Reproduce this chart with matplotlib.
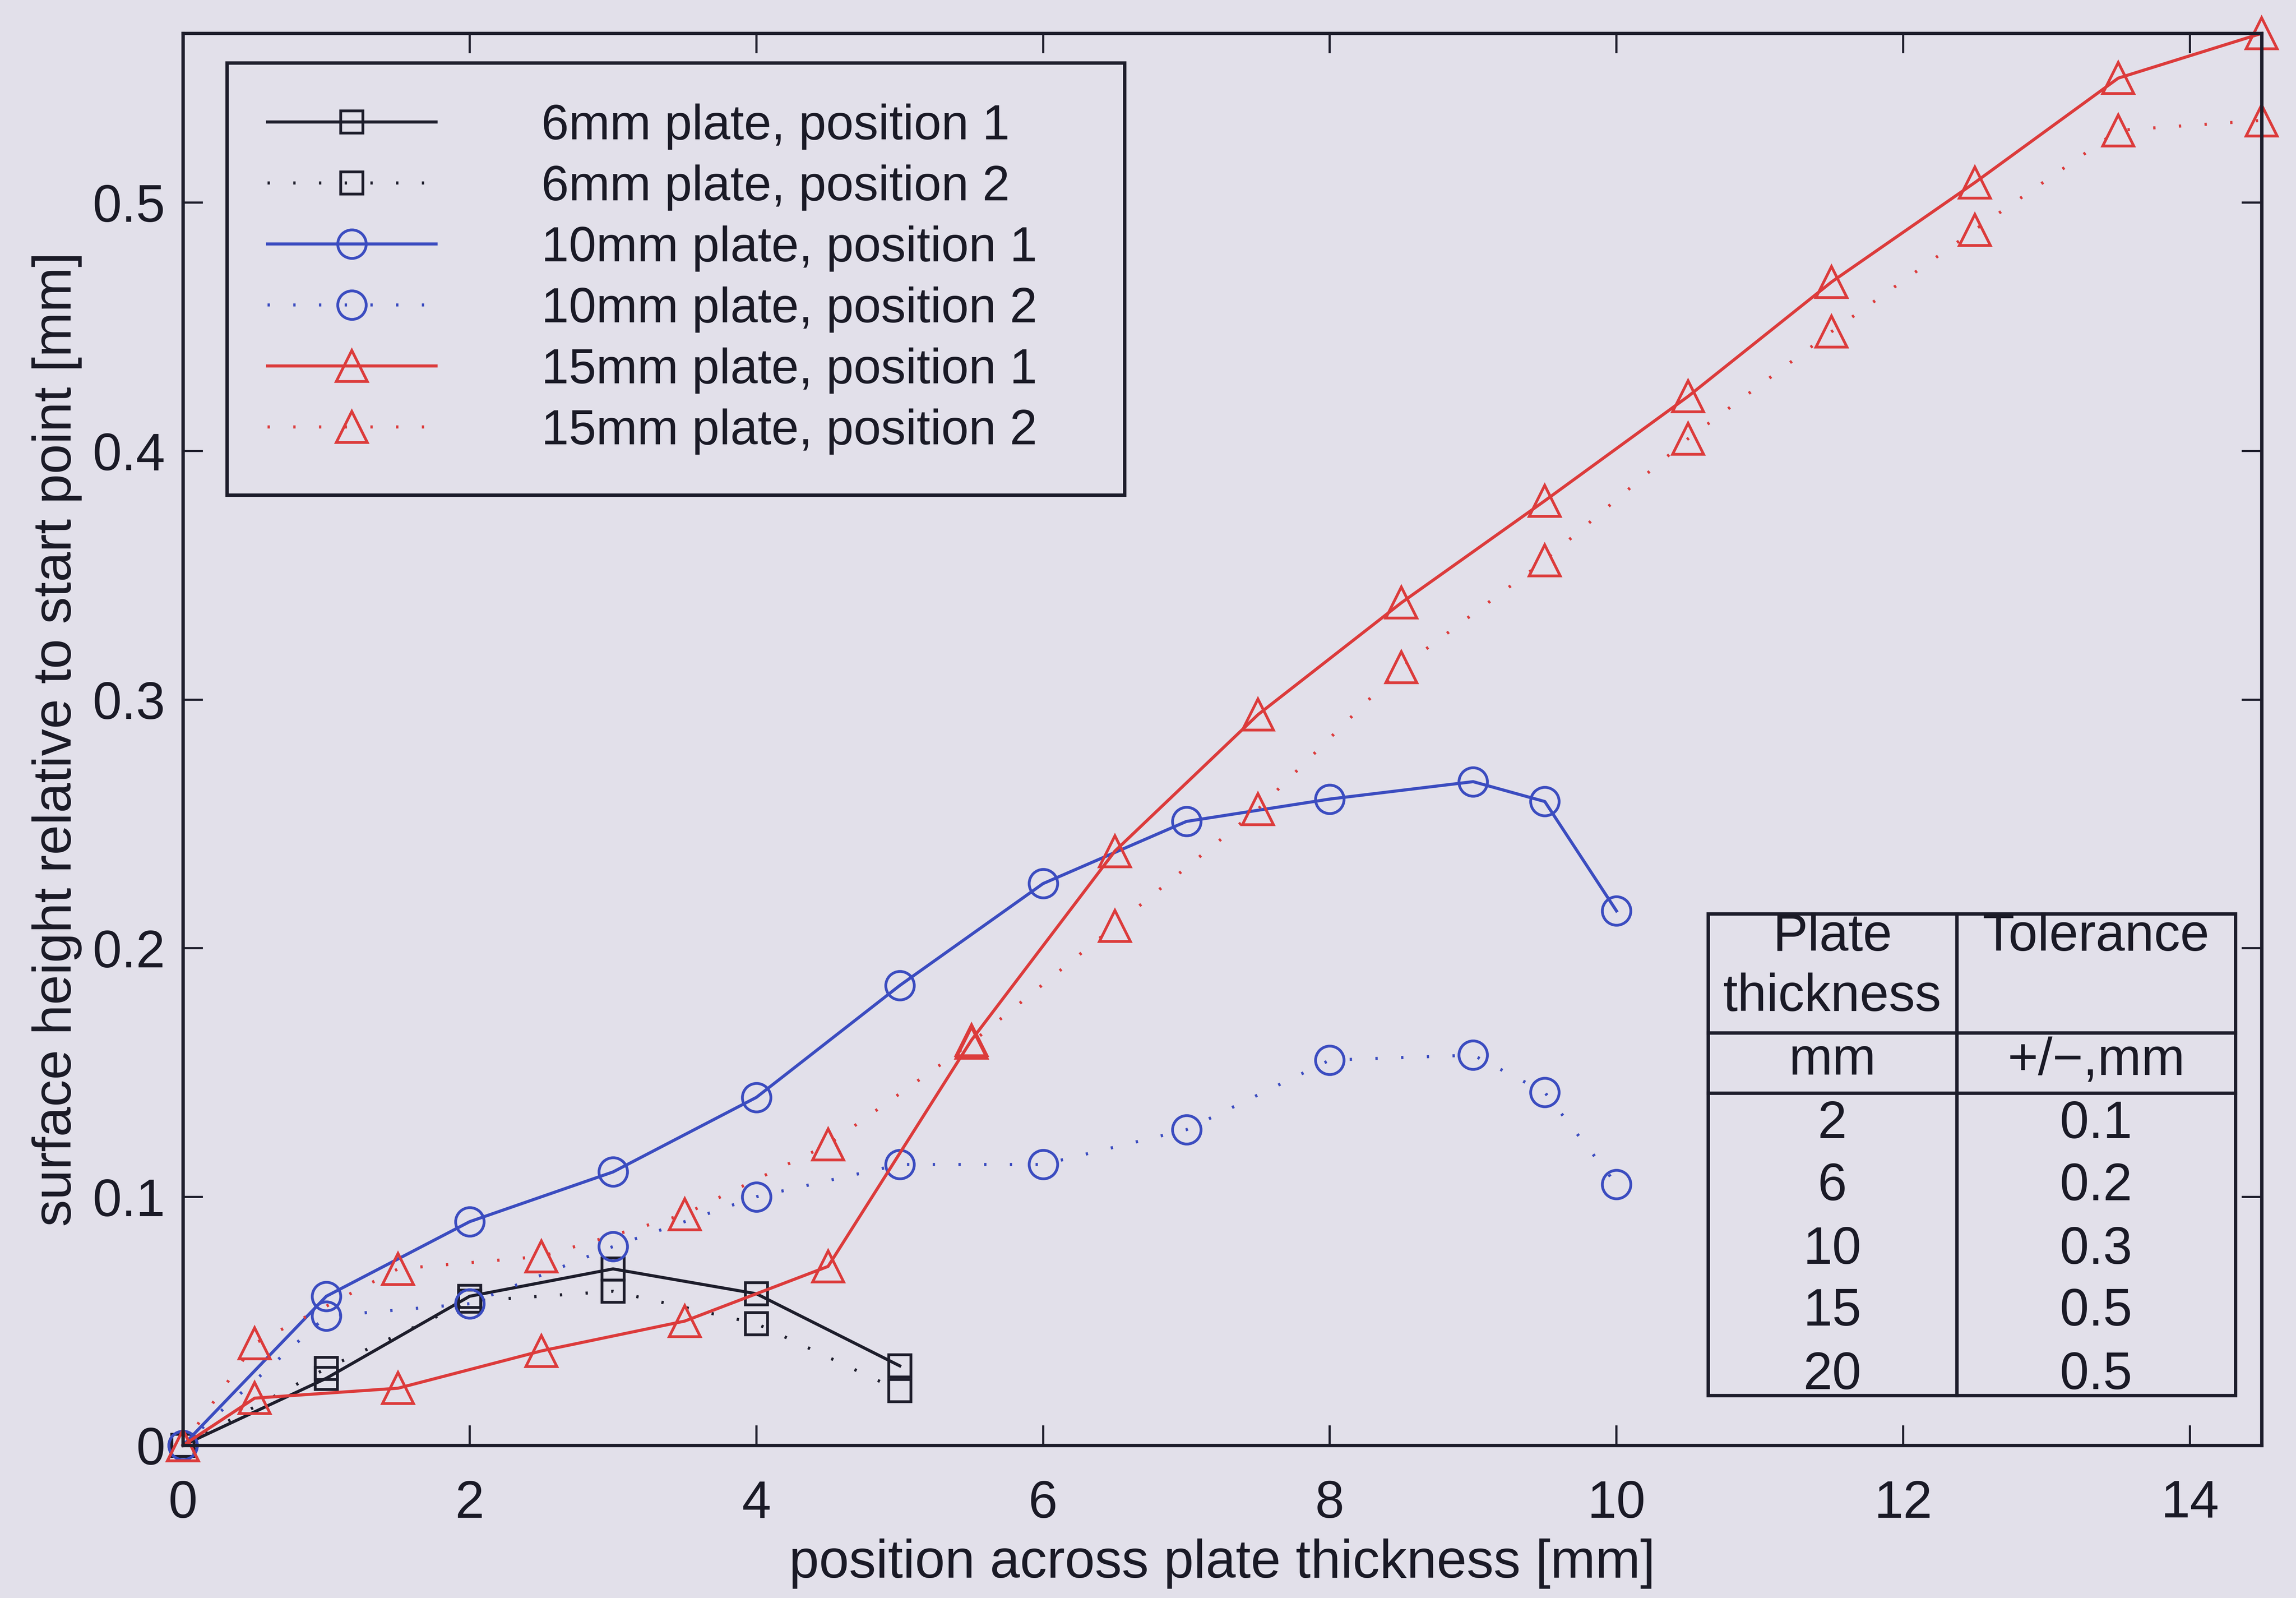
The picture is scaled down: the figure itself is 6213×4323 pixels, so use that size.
import matplotlib
matplotlib.use("Agg")
import matplotlib.pyplot as plt
from matplotlib.lines import Line2D
from matplotlib.patches import Rectangle

plt.rcParams['font.family'] = ['Liberation Sans', 'DejaVu Sans']

# ---------------- data ----------------
x6 = [0, 1, 2, 3, 4, 5]
h6_pos1 = [0, 0.027, 0.060, 0.071, 0.061, 0.032]
h6_pos2 = [0, 0.031, 0.058, 0.062, 0.049, 0.022]

x10 = [0, 1, 2, 3, 4, 5, 6, 7, 8, 9, 9.5, 10]
h10_pos1 = [0, 0.060, 0.090, 0.110, 0.140, 0.185, 0.226, 0.251, 0.260, 0.267, 0.259, 0.215]
h10_pos2 = [0, 0.052, 0.057, 0.080, 0.100, 0.113, 0.113, 0.127, 0.155, 0.157, 0.142, 0.105]

x15 = [0, 0.5, 1.5, 2.5, 3.5, 4.5, 5.5, 6.5, 7.5, 8.5, 9.5, 10.5, 11.5, 12.5, 13.5, 14.5]
h15_pos1 = [0, 0.019, 0.023, 0.038, 0.050, 0.072, 0.163, 0.239, 0.294, 0.339, 0.380,
            0.422, 0.468, 0.508, 0.550, 0.568]
h15_pos2 = [0, 0.041, 0.071, 0.076, 0.093, 0.121, 0.162, 0.209, 0.256, 0.313, 0.356,
            0.405, 0.448, 0.489, 0.529, 0.533]

series_labels = ["6mm plate, position 1", "6mm plate, position 2",
                 "10mm plate, position 1", "10mm plate, position 2",
                 "15mm plate, position 1", "15mm plate, position 2"]

table_header = ["Plate\nthickness", "Tolerance"]
table_units = ["mm", "+/\u2212,mm"]
plate_thickness = ["2", "6", "10", "15", "20"]
tolerance = ["0.1", "0.2", "0.3", "0.5", "0.5"]

x_ticks = [0, 2, 4, 6, 8, 10, 12, 14]
y_ticks = [0, 0.1, 0.2, 0.3, 0.4, 0.5]
y_ticklabels = ["0", "0.1", "0.2", "0.3", "0.4", "0.5"]

# ---------------- style ----------------
BG = '#e2e0ea'
BLACK = '#1d1d2b'
BLUE = '#3b4cc0'
RED = '#dc3b3b'
TXT = '#1a1a26'
DOT = (0, (0.75, 7.6))

fig = plt.figure(figsize=(6213 / 300, 4323 / 300), dpi=300, facecolor=BG)
ax = fig.add_axes([0.0797, 0.0955, 0.9053, 0.8836])
ax.set_facecolor(BG)

lw = 2.0
common = dict(linewidth=lw, markerfacecolor='none', markeredgewidth=1.8, clip_on=False)
l1, = ax.plot(x6, h6_pos1, color=BLACK, linestyle='-', marker='s', markersize=14.5,
              markeredgecolor=BLACK, **common)
l2, = ax.plot(x6, h6_pos2, color=BLACK, linestyle=DOT, marker='s', markersize=14.5,
              markeredgecolor=BLACK, dash_capstyle='butt', **common)
l3, = ax.plot(x10, h10_pos1, color=BLUE, linestyle='-', marker='o', markersize=18.5,
              markeredgecolor=BLUE, **common)
l4, = ax.plot(x10, h10_pos2, color=BLUE, linestyle=DOT, marker='o', markersize=18.5,
              markeredgecolor=BLUE, dash_capstyle='butt', **common)
l5, = ax.plot(x15, h15_pos1, color=RED, linestyle='-', marker='^', markersize=20,
              markeredgecolor=RED, **common)
l6, = ax.plot(x15, h15_pos2, color=RED, linestyle=DOT, marker='^', markersize=20,
              markeredgecolor=RED, dash_capstyle='butt', **common)

ax.set_xlim(0, 14.5)
ax.set_ylim(0, 0.568)
ax.set_xticks(x_ticks)
ax.set_xticklabels([str(t) for t in x_ticks])
ax.set_yticks(y_ticks)
ax.set_yticklabels(y_ticklabels)

for s in ax.spines.values():
    s.set_linewidth(2.2)
    s.set_color(BLACK)
ax.tick_params(direction='in', length=13, width=1.4, top=True, right=True,
               labelsize=34, colors=BLACK, labelcolor=TXT)
ax.tick_params(axis='x', pad=22)
ax.tick_params(axis='y', pad=11.5)

ax.set_xlabel("position across plate thickness [mm]", fontsize=35, color=TXT)
ax.set_ylabel("surface height relative to start point [mm]", fontsize=35, color=TXT)
ax.xaxis.set_label_coords(0.5, -0.066)
ax.yaxis.set_label_coords(-0.0485, 0.5)

leg = ax.legend([l1, l2, l3, l4, l5, l6], series_labels, loc='upper left',
                bbox_to_anchor=(0.0212, 0.9791, 0.4318, 0.0), mode='expand',
                fontsize=32, handlelength=3.42, handletextpad=2.14, labelspacing=0.30,
                borderpad=0.82, borderaxespad=0, numpoints=1, fancybox=False,
                framealpha=1, facecolor=BG, edgecolor=BLACK)
leg.get_frame().set_linewidth(2.2)
for t in leg.get_texts():
    t.set_color(TXT)

# ---------------- table ----------------
tl, tm, tr = 0.7337, 0.8533, 0.9874
tt, th1, th2, tb = 0.3764, 0.2921, 0.2495, 0.0353
tkw = dict(transform=ax.transAxes, clip_on=False, color=BLACK, linewidth=2.2)
ax.add_patch(Rectangle((tl, tb), tr - tl, tt - tb, fill=False, edgecolor=BLACK,
                       linewidth=2.2, transform=ax.transAxes, clip_on=False))
ax.add_line(Line2D([tm, tm], [tb, tt], **tkw))
ax.add_line(Line2D([tl, tr], [th1, th1], **tkw))
ax.add_line(Line2D([tl, tr], [th2, th2], **tkw))

c1 = (tl + tm) / 2
c2 = (tm + tr) / 2
tfs = 34
txkw = dict(transform=ax.transAxes, ha='center', va='baseline', fontsize=tfs, color=TXT)
hdr_lines = table_header[0].split("\n")
ax.text(c1, 0.3503, hdr_lines[0], **txkw)
ax.text(c1, 0.3076, hdr_lines[1], **txkw)
ax.text(c2, 0.3503, table_header[1], **txkw)
ax.text(c1, 0.2626, table_units[0], **txkw)
ax.text(c2, 0.2626, table_units[1], **txkw)
row_y = [0.2175, 0.1736, 0.1285, 0.0848, 0.0398]
for yy, a, b in zip(row_y, plate_thickness, tolerance):
    ax.text(c1, yy, a, **txkw)
    ax.text(c2, yy, b, **txkw)

fig.savefig("out.png", dpi=300, facecolor=BG)
